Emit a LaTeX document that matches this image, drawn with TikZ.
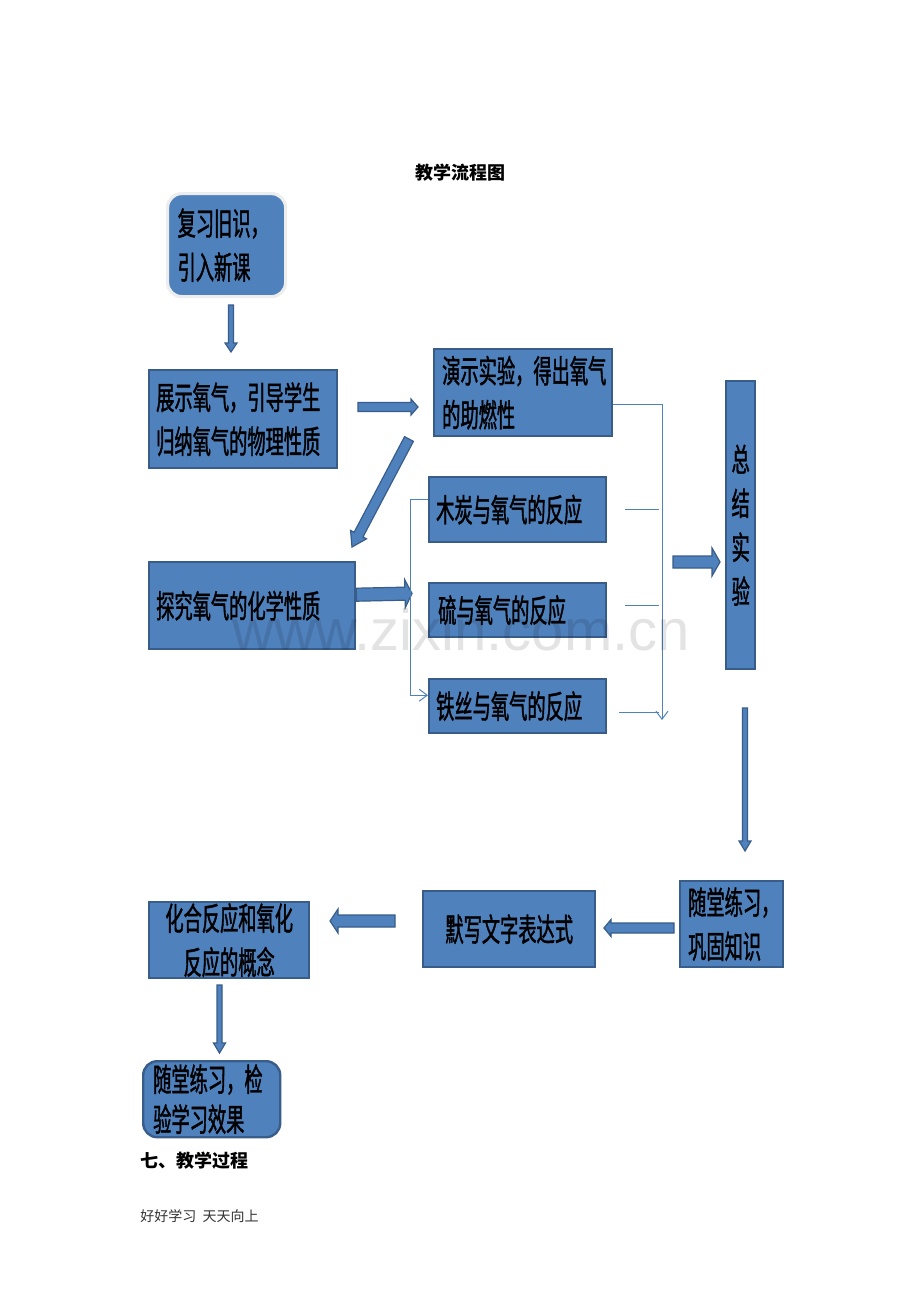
\documentclass[tikz,border=0pt]{standalone}
\usepackage{fontspec}
\usetikzlibrary{calc,arrows.meta}
\newfontfamily\cjk{Noto Sans CJK SC}
\newfontfamily\bcjk[FakeStretch=0.57,FakeBold=1.2]{Noto Sans CJK SC}
\newfontfamily\wmfont{Liberation Sans}
\definecolor{blu}{HTML}{4F81BD}
\definecolor{bdr}{HTML}{385D8A}
\newcommand\blockarr[5]{%
  \coordinate (ba-c) at ($(#2)!#5!(#1)$);
  \draw[barrow] ($(#1)!#3!90:(#2)$) -- ($(ba-c)!#3!90:(#2)$) -- ($(ba-c)!#4!90:(#2)$)
    -- (#2) -- ($(ba-c)!#4!-90:(#2)$) -- ($(ba-c)!#3!-90:(#2)$) -- ($(#1)!#3!-90:(#2)$) -- cycle;}
\tikzset{
  box/.style={draw=bdr, fill=blu, line width=1.2pt, anchor=north west, inner ysep=0pt,
    font=\bcjk\fontsize{16}{22}\selectfont, text=black, align=left},
  rbox/.style={box, rounded corners=7pt},
  barrow/.style={draw=bdr, fill=blu, line width=0.6pt, line join=miter},
  thinl/.style={draw=blu, line width=0.5pt},
  otip/.style={-{Straight Barb[length=4pt,width=6pt]}}
}
\begin{document}
\begin{tikzpicture}[x=0.5pt,y=-0.5pt]
\useasboundingbox (0,0) rectangle (920,1302);
\fill[white] (0,0) rectangle (920,1302);
% title
\node[font=\cjk\bfseries\fontsize{9}{9}\selectfont, anchor=base, inner sep=0] (title) at (460,179) {教学流程图};
% boxes
\node[rbox, draw=black!7, line width=1.6pt, minimum width=59pt, minimum height=51.5pt, inner xsep=5pt, text width=49pt] (b1) at (166,192) {复习旧识，\\引入新课};
\node[box, minimum width=94pt, minimum height=49pt, inner xsep=3.5pt, text width=87pt] (b2) at (148,369) {展示氧气，引导学生\\归纳氧气的物理性质};
\node[box, minimum width=89pt, minimum height=43.5pt, inner xsep=4pt, text width=81pt] (b3) at (433,348) {演示实验，得出氧气\\的助燃性};
\node[box, minimum width=103pt, minimum height=43.5pt, inner xsep=3.5pt, text width=96pt] (b4) at (148,561) {探究氧气的化学性质};
\node[box, minimum width=88.5pt, minimum height=32.5pt, inner xsep=3.5pt, text width=81.5pt] (b5) at (428,476) {木炭与氧气的反应};
\node[box, minimum width=88.5pt, minimum height=27pt, inner xsep=4.5pt, text width=79.5pt] (b6) at (428,582) {硫与氧气的反应};
\node[box, minimum width=88.5pt, minimum height=27pt, inner xsep=3.5pt, text width=81.5pt] (b7) at (428,678) {铁丝与氧气的反应};
\node[box, minimum width=14.5pt, minimum height=144pt, inner xsep=0pt, text width=14.5pt, align=center] (b8) at (725,380) {总\\结\\实\\验};
\node[box, minimum width=51.5pt, minimum height=43pt, inner xsep=4pt, text width=43.5pt] (b9) at (679,880) {随堂练习，\\巩固知识};
\node[box, minimum width=86pt, minimum height=38pt, inner xsep=2pt, text width=82pt, align=center] (b10) at (422,890) {默写文字表达式};
\node[box, minimum width=80pt, minimum height=38pt, inner xsep=2pt, text width=76pt, align=center] (b11) at (148,901) {化合反应和氧化\\反应的概念};
\node[rbox, minimum width=68.5pt, minimum height=38pt, inner xsep=5pt, text width=58.5pt, font=\bcjk\fontsize{16}{20}\selectfont] (b12) at (142,1060) {随堂练习，检\\验学习效果};
% block arrows
\coordinate (a1s) at (231,305); \coordinate (a1e) at (231,352);
\blockarr{a1s}{a1e}{1.25pt}{3pt}{4.5pt}
\coordinate (a2s) at (358,407); \coordinate (a2e) at (418,407);
\blockarr{a2s}{a2e}{2.25pt}{4pt}{3.5pt}
\coordinate (a3s) at (409,439); \coordinate (a3e) at (352,547);
\blockarr{a3s}{a3e}{2.5pt}{4.5pt}{7pt}
\coordinate (a4s) at ($(b4.east)+(0,-11)$); \coordinate (a4e) at (412,593.5);
\blockarr{a4s}{a4e}{3.25pt}{7pt}{3.5pt}
\coordinate (a5s) at (673,562); \coordinate (a5e) at (720,562);
\blockarr{a5s}{a5e}{3pt}{7pt}{4pt}
\coordinate (a6s) at (745,708); \coordinate (a6e) at (745,851);
\blockarr{a6s}{a6e}{1.25pt}{3pt}{5pt}
\coordinate (a7s) at (674,928); \coordinate (a7e) at (604,928);
\blockarr{a7s}{a7e}{2.5pt}{4.25pt}{3.5pt}
\coordinate (a8s) at (395,921); \coordinate (a8e) at (330,921);
\blockarr{a8s}{a8e}{3pt}{6pt}{4pt}
\coordinate (a9s) at (219.5,985); \coordinate (a9e) at (219.5,1053);
\blockarr{a9s}{a9e}{1.25pt}{3pt}{5pt}
% thin connectors
\draw[thinl, otip] ([yshift=5.25pt]b5.west) -- ++(-9pt,0) |- ([yshift=5.5pt]b7.west);
\coordinate (rend) at (662,720);
\draw[thinl, otip] ([yshift=-5.75pt]b3.east) -| (rend);
\draw[thinl] ([xshift=9pt]b5.east) -- ++(17pt,0);
\draw[thinl] ([xshift=9pt,yshift=2.5pt]b6.east) -- ++(17pt,0);
\draw[thinl] ([xshift=6pt,yshift=-3pt]b7.east) -- ++(20pt,0);
% watermark (semi-transparent, on top)
\node[text=black, text opacity=0.11, font=\wmfont\fontsize{29}{29}\selectfont, anchor=base, inner sep=0] (wm) at (461,650) {www.zixin.com.cn};
% texts below
\node[font=\cjk\bfseries\fontsize{9}{9}\selectfont, anchor=base west, inner sep=0] (sec) at (140,1167) {七、教学过程};
\node[font=\cjk\fontsize{7}{7}\selectfont, text=black!80, anchor=base west, inner sep=0] (foot) at (140,1221) {好好学习\ \ 天天向上};
\end{tikzpicture}
\end{document}
